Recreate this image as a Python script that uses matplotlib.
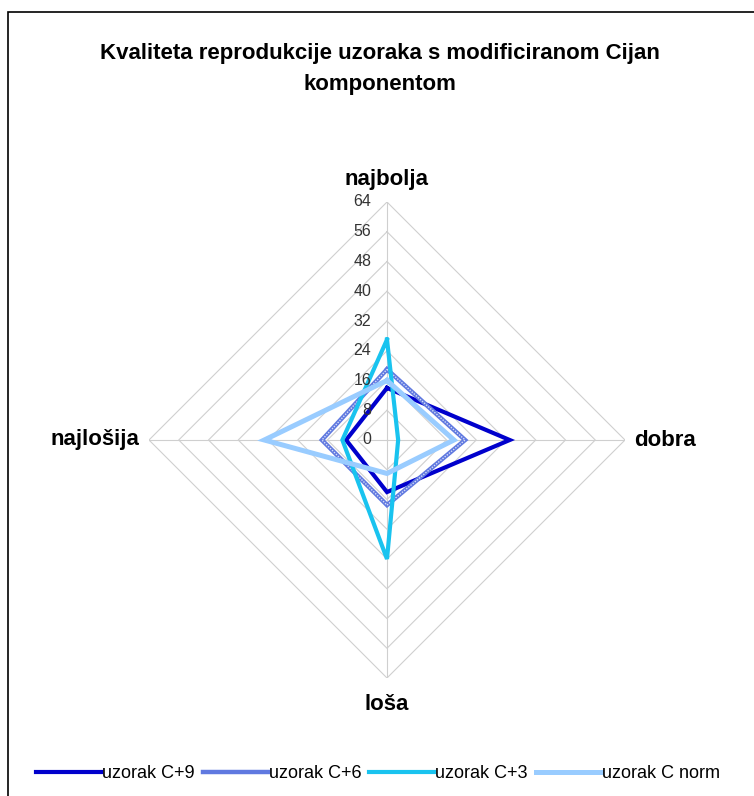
import numpy as np
import matplotlib.pyplot as plt
from matplotlib.patches import Rectangle
from matplotlib.lines import Line2D

plt.rcParams['font.family'] = ['Liberation Sans', 'DejaVu Sans']

# kategorije (u smjeru kazaljke: gore, desno, dolje, lijevo)
kategorije = ['najbolja', 'dobra', 'loša', 'najlošija']
uzorak_c9 = [14, 33, 14, 11]
uzorak_c6 = [19, 21, 17.5, 17.5]
uzorak_c3 = [27, 3, 32, 12]
uzorak_cnorm = [16, 18, 9, 33]
skala = [0, 8, 16, 24, 32, 40, 48, 56, 64]

naslov = 'Kvaliteta reprodukcije uzoraka s modificiranom Cijan\nkomponentom'

kutovi = np.arange(len(kategorije)) * 2 * np.pi / len(kategorije)


def u_xy(vrijednosti):
    r = np.array(list(vrijednosti) + [vrijednosti[0]], dtype=float)
    k = np.append(kutovi, kutovi[0])
    return r * np.sin(k), r * np.cos(k)


fig = plt.figure(figsize=(7.54, 7.96), dpi=100)

# okvir grafikona
fig.patches.append(Rectangle((8 / 754, -0.01), 1.0, 1 - 12 / 796 + 0.01,
                             transform=fig.transFigure, fill=False,
                             edgecolor='black', linewidth=1.2))

ax = fig.add_axes([149 / 754, 118 / 796, 476 / 754, 476 / 796])
ax.set_xlim(-64, 64)
ax.set_ylim(-64, 64)
ax.set_aspect('equal')
ax.axis('off')

# mreža
for s in skala[1:]:
    gx, gy = u_xy([s] * 4)
    ax.plot(gx, gy, color='#cfcfcf', lw=0.8, zorder=1)
for k in kutovi:
    ax.plot([0, 64 * np.sin(k)], [0, 64 * np.cos(k)], color='#cfcfcf', lw=0.8, zorder=1)

for s in skala:
    ax.text(-4.2, s, str(s), ha='right', va='center', fontsize=11.5, color='#333333', zorder=5)

# serije
x, y = u_xy(uzorak_c9)
ax.plot(x, y, color='#0000cc', lw=3, solid_joinstyle='miter', zorder=3)
x, y = u_xy(uzorak_c6)
ax.plot(x, y, color='#6079e0', lw=3.2, solid_joinstyle='miter', zorder=3)
ax.plot(x, y, color='white', lw=1, ls=(0, (1, 1)), alpha=0.75, zorder=3)
x, y = u_xy(uzorak_c3)
ax.plot(x, y, color='#19c3ef', lw=3, solid_joinstyle='miter', zorder=3)
x, y = u_xy(uzorak_cnorm)
ax.plot(x, y, color='#99ccff', lw=3.6, solid_joinstyle='miter', zorder=4)

# nazivi osi
ax.text(0, 70, kategorije[0], ha='center', va='center', fontsize=16, fontweight='bold')
ax.text(66.5, 0, kategorije[1], ha='left', va='center', fontsize=16, fontweight='bold')
ax.text(0, -71, kategorije[2], ha='center', va='center', fontsize=16, fontweight='bold')
ax.text(-66.5, 0, kategorije[3], ha='right', va='center', fontsize=16, fontweight='bold')

fig.text(380 / 754, 1 - 69 / 796, naslov, ha='center', va='center', fontsize=16,
         fontweight='bold', linespacing=1.6)

# legenda
ruke = [Line2D([], [], color='#0000cc', lw=3), Line2D([], [], color='#6079e0', lw=3.2),
        Line2D([], [], color='#19c3ef', lw=3), Line2D([], [], color='#99ccff', lw=3.6)]
oznake = ['uzorak C+9', 'uzorak C+6', 'uzorak C+3', 'uzorak C norm']
fig.legend(ruke, oznake, loc='center', bbox_to_anchor=(378 / 754, 1 - 774 / 796), ncol=4,
           frameon=False, fontsize=13, handlelength=3.6, handletextpad=0.05,
           columnspacing=0.45)

fig.savefig('out.png', dpi=100)
